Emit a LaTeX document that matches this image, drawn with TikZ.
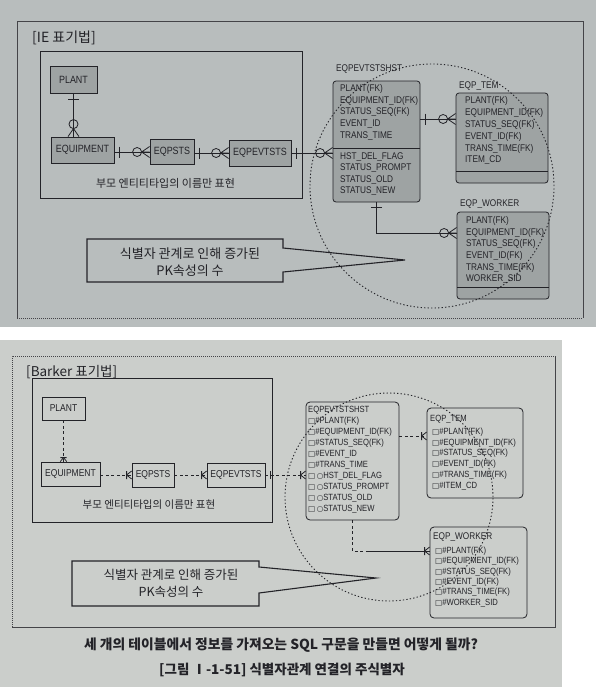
\documentclass[tikz,border=0pt]{standalone}
\usepackage{fontspec}
\setmainfont{Liberation Sans}
\newfontfamily\tblf{Liberation Sans}[FakeStretch=0.85]
\newfontfamily\krf{Noto Sans CJK KR}
\newfontfamily\symfnt{DejaVu Sans}
\usetikzlibrary{calc}
\definecolor{paperA}{RGB}{184,189,189}
\definecolor{paperB}{RGB}{203,206,203}
\definecolor{boxA}{RGB}{158,163,163}
\definecolor{ink}{RGB}{35,35,40}
\newcommand\bsq{{\symfnt\fontsize{7.5}{8}\selectfont □}}
\newcommand\boc{{\symfnt\fontsize{7.5}{8}\selectfont ○}}
\begin{document}
\begin{tikzpicture}[x=1pt,y=-1pt,
  entA/.style={draw=ink, line width=0.8pt, fill=boxA, text=ink, font=\tblf\fontsize{10.5}{11}\selectfont, inner sep=0pt},
  tblA/.style={draw=ink, line width=0.8pt, fill=boxA, rounded corners=3pt, inner sep=0pt},
  rowA/.style={anchor=west, font=\tblf\fontsize{9.7}{10}\selectfont, text=ink, inner sep=0pt},
  entB/.style={draw=ink, line width=0.8pt, text=ink, font=\tblf\fontsize{10}{11}\selectfont, inner sep=0pt},
  tblB/.style={draw=ink, line width=0.8pt, rounded corners=4pt, inner sep=0pt},
  rowB/.style={anchor=west, font=\tblf\fontsize{9}{10}\selectfont, text=ink, inner sep=0pt},
  kr/.style={text=ink, inner sep=0pt, align=center},
  rel/.style={draw=ink, line width=0.8pt},
  brel/.style={draw=ink, line width=0.8pt, dash pattern=on 3pt off 2.5pt},
  ring/.style={draw=ink, line width=0.9pt, dash pattern=on 1.3pt off 2.2pt},
  frame/.style={draw=ink!85, line width=0.6pt},
  callout/.style={draw=ink, line width=1.1pt, line join=miter},
  iemany/.pic={\draw[ink, line width=0.8pt] (-8,0) -- (0,-5.5) (-8,0) -- (0,5.5) (-8,0) -- (0,0);
               \draw[ink, line width=0.8pt] (-12.5,0) circle[radius=4.5pt];},
  ieone/.pic={\draw[ink, line width=0.8pt] (5,-5.5) -- (5,5.5);},
  bkmany/.pic={\draw[ink, line width=0.8pt] (-5,-4) -- (-5,4) (-5,0) -- (0,-4) (-5,0) -- (0,4);},
  bkone/.pic={\draw[ink, line width=0.8pt] (5,-4) -- (5,4);}
]
\useasboundingbox (0,0) rectangle (596,694);
% photo backgrounds
\fill[white] (0,0) rectangle (596,694);
\fill[paperA] (0,0) rectangle (596,327);
\fill[paperB] (0,340) rectangle (562,687);

% ================= IE section =================
\draw[frame] (17,318) -- (17,21) -- (583,21) -- (583,318);
\draw[frame, dash pattern=on 1pt off 1pt] (17,318) -- (583,318);
\node[kr, anchor=west, font=\krf\fontsize{14}{16}\selectfont] (titleA) at (32,38) {[IE 표기법]};
\draw[draw=ink, line width=0.9pt] (40,51) rectangle (302,198);

\node[entA, minimum width=47pt, minimum height=27pt] (plantA) at (73.5,80) {PLANT};
\node[entA, minimum width=63pt, minimum height=26pt] (equipA) at (82.5,150) {EQUIPMENT};
\node[entA, minimum width=44pt, minimum height=25pt] (stsA) at (172,152) {EQPSTS};
\node[entA, minimum width=62pt, minimum height=26pt] (evtA) at (260,153) {EQPEVTSTS};
\node[kr, font=\krf\fontsize{11}{12}\selectfont] (noteA1) at (165.5,183) {부모 엔티티타입의 이름만 표현};

% tables
\node[tblA, minimum width=87pt, minimum height=121pt] (hstA) at (376.5,141.5) {};
\draw[rel] (333,148) -- (420,148);
\node[rowA] at (336,69) {EQPEVTSTSHST};
\node[rowA] at (340,89) {PLANT(FK)};
\node[rowA] at (340,100.7) {EQUIPMENT\_ID(FK)};
\node[rowA] at (340,112.4) {STATUS\_SEQ(FK)};
\node[rowA] at (340,124) {EVENT\_ID};
\node[rowA] at (340,135.7) {TRANS\_TIME};
\node[rowA] at (340,157) {HST\_DEL\_FLAG};
\node[rowA] at (340,168.5) {STATUS\_PROMPT};
\node[rowA] at (340,180) {STATUS\_OLD};
\node[rowA] at (340,191.5) {STATUS\_NEW};

\node[tblA, minimum width=92pt, minimum height=90pt] (temA) at (502,138) {};
\draw[rel] (456,171) -- (548,171);
\node[rowA] at (459,86) {EQP\_TEM};
\node[rowA] at (465,101) {PLANT(FK)};
\node[rowA] at (465,113) {EQUIPMENT\_ID(FK)};
\node[rowA] at (465,125) {STATUS\_SEQ(FK)};
\node[rowA] at (465,137) {EVENT\_ID(FK)};
\node[rowA] at (465,149) {TRANS\_TIME(FK)};
\node[rowA] at (465,160.5) {ITEM\_CD};

\node[tblA, minimum width=92pt, minimum height=87pt] (workA) at (503,255.5) {};
\draw[rel] (457,287) -- (549,287);
\node[rowA] at (460,204) {EQP\_WORKER};
\node[rowA] at (466,221) {PLANT(FK)};
\node[rowA] at (466,232.5) {EQUIPMENT\_ID(FK)};
\node[rowA] at (466,244) {STATUS\_SEQ(FK)};
\node[rowA] at (466,256) {EVENT\_ID(FK)};
\node[rowA] at (466,267.5) {TRANS\_TIME(FK)};
\node[rowA] at (466,279) {WORKER\_SID};

% relationships (IE)
\draw[rel] (plantA.south) -- (plantA.south |- equipA.north);
\pic[rotate=-90] at (plantA.south) {ieone};
\pic[rotate=-90] at (plantA.south |- equipA.north) {iemany};
\draw[rel] (equipA.east |- stsA.west) -- (stsA.west);
\pic at (equipA.east |- stsA.west) {ieone};
\pic at (stsA.west) {iemany};
\draw[rel] (stsA.east |- evtA.west) -- (evtA.west);
\pic at (stsA.east |- evtA.west) {ieone};
\pic at (evtA.west) {iemany};
\draw[rel] (evtA.east) -- (hstA.west |- evtA.east);
\pic at (evtA.east) {ieone};
\pic at (hstA.west |- evtA.east) {iemany};
\draw[rel] (hstA.east |- 0,119) -- (temA.west |- 0,119);
\pic at (hstA.east |- 0,119) {ieone};
\pic at (temA.west |- 0,119) {iemany};
\draw[rel] (hstA.south) |- (workA.west |- 0,233);
\pic[rotate=-90] at (hstA.south) {ieone};
\pic at (workA.west |- 0,233) {iemany};

% callout
\node[kr, font=\krf\fontsize{13}{17}\selectfont] (calloutA) at (190,262.5) {식별자 관계로 인해 증가된\\PK속성의 수};
\draw[callout] (87,239) -- (283,239) -- (283,248) -- (405,260) -- (283,272) -- (283,282) -- (87,282) -- cycle;

\draw[ring] (432,186) circle[radius=122pt];

% ================= Barker section =================
\draw[frame, dash pattern=on 1pt off 1pt] (12,627) -- (12,356) -- (555,356);
\draw[frame] (555,356) -- (555,627) -- (12,627);
\node[kr, anchor=west, font=\krf\fontsize{13.5}{15}\selectfont] (titleB) at (26,372) {[Barker 표기법]};
\draw[draw=ink, line width=0.9pt] (32,378) rectangle (272,522);

\node[entB, minimum width=43pt, minimum height=23pt] (plantB) at (63.5,408.5) {PLANT};
\node[entB, minimum width=59pt, minimum height=24pt] (equipB) at (70.5,474) {EQUIPMENT};
\node[entB, minimum width=42pt, minimum height=24pt] (stsB) at (153,475) {EQPSTS};
\node[entB, minimum width=58pt, minimum height=24pt] (evtB) at (236,475) {EQPEVTSTS};
\node[kr, font=\krf\fontsize{10.5}{12}\selectfont] (noteB1) at (149,505) {부모 엔티티타입의 이름만 표현};

\node[tblB, minimum width=93pt, minimum height=118pt] (hstB) at (352.5,461) {};
\node[rowB] at (308,410) {EQPEVTSTSHST};
\node[rowB] at (308,421) {\bsq\#PLANT(FK)};
\node[rowB] at (308,432) {\bsq\#EQUIPMENT\_ID(FK)};
\node[rowB] at (308,443) {\bsq\#STATUS\_SEQ(FK)};
\node[rowB] at (308,454) {\bsq\#EVENT\_ID};
\node[rowB] at (308,465) {\bsq\#TRANS\_TIME};
\node[rowB] at (308,476) {\bsq\,\boc HST\_DEL\_FLAG};
\node[rowB] at (308,487) {\bsq\,\boc STATUS\_PROMPT};
\node[rowB] at (308,498) {\bsq\,\boc STATUS\_OLD};
\node[rowB] at (308,509) {\bsq\,\boc STATUS\_NEW};

\node[tblB, minimum width=96pt, minimum height=90pt] (temB) at (475,453) {};
\node[rowB] at (430,419) {EQP\_TEM};
\node[rowB] at (432,432) {\bsq\#PLANT(FK)};
\node[rowB] at (432,443) {\bsq\#EQUIPMENT\_ID(FK)};
\node[rowB] at (432,453.5) {\bsq\#STATUS\_SEQ(FK)};
\node[rowB] at (432,464) {\bsq\#EVENT\_ID(FK)};
\node[rowB] at (432,475) {\bsq\#TRANS\_TIME(FK)};
\node[rowB] at (432,486) {\bsq\#ITEM\_CD};

\node[tblB, minimum width=97pt, minimum height=91pt] (workB) at (478.5,572.5) {};
\node[rowB, font=\tblf\fontsize{9.7}{10}\selectfont] at (433,537) {EQP\_WORKER};
\node[rowB] at (435,551) {\bsq\#PLANT(FK)};
\node[rowB] at (435,561.5) {\bsq\#EQUIPMENT\_ID(FK)};
\node[rowB] at (435,572) {\bsq\#STATUS\_SEQ(FK)};
\node[rowB] at (435,582) {\bsq\#EVENT\_ID(FK)};
\node[rowB] at (435,592.5) {\bsq\#TRANS\_TIME(FK)};
\node[rowB] at (435,603) {\bsq\#WORKER\_SID};

% relationships (Barker)
\draw[brel] (plantB.south) -- (plantB.south |- equipB.north);
\pic[rotate=-90, scale=0.8] at (plantB.south |- equipB.north) {bkmany};
\draw[brel] (equipB.east |- stsB.west) -- (stsB.west);
\pic at (stsB.west) {bkmany};
\draw[brel] (stsB.east) -- (evtB.west);
\pic at (evtB.west) {bkmany};
\draw[brel] (evtB.east) -- (hstB.west |- evtB.east);
\pic at (evtB.east) {bkone};
\pic at (hstB.west |- evtB.east) {bkmany};
\draw[brel] (hstB.east |- 0,436) -- (temB.west |- 0,436);
\pic at (temB.west |- 0,436) {bkmany};
\coordinate (bend) at (367,551);
\draw[brel] (hstB.south) |- (bend);
\draw[rel] (bend) -- (workB.west |- bend);
\pic at (workB.west |- bend) {bkmany};

% callout
\node[kr, font=\krf\fontsize{12.5}{17}\selectfont] (calloutB) at (171,583.5) {식별자 관계로 인해 증가된\\PK속성의 수};
\draw[callout] (72,561) -- (259,561) -- (259,567) -- (376,578) -- (259,593) -- (259,606) -- (72,606) -- cycle;

\draw[ring] (389,497) circle[radius=104pt];

% captions
\node[kr, font=\krf\bfseries\fontsize{13.8}{15}\selectfont] (q) at (281,645) {세 개의 테이블에서 정보를 가져오는 SQL 구문을 만들면 어떻게 될까?};
\node[kr, font=\krf\bfseries\fontsize{13.5}{15}\selectfont] (cap) at (282,670) {[그림 Ⅰ-1-51] 식별자관계 연결의 주식별자};
\end{tikzpicture}
\end{document}
